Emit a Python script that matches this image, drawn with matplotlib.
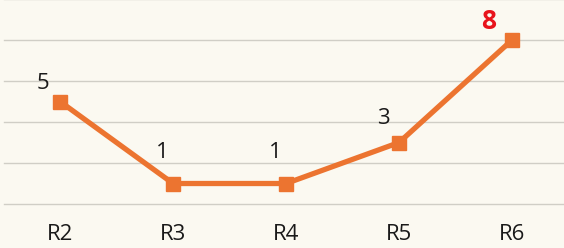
import matplotlib
matplotlib.use("Agg")
import matplotlib.pyplot as plt

categories = ["R2", "R3", "R4", "R5", "R6"]
values = [5, 1, 1, 3, 8]
highlight = [False, False, False, False, True]

# label placement (style only): offsets in points from each marker
label_dx = [-12, -8, -8, -11, -17]
label_dy = [13, 22, 22, 17, 13]

bg = "#fbf9f1"
line_color = "#ec7430"

fig = plt.figure(figsize=(5.64, 2.48), dpi=100, facecolor=bg)
ax = fig.add_axes([4 / 564, 0.1774, 560 / 564, 0.8266], facecolor=bg)

x = list(range(len(categories)))
ax.plot(x, values, color=line_color, lw=3.8, marker="s", ms=10,
        solid_joinstyle="miter", zorder=3)

for xi, v, h, dx, dy in zip(x, values, highlight, label_dx, label_dy):
    if h:
        ax.annotate(str(v), (xi, v), xytext=(dx, dy), textcoords="offset points",
                    ha="center", va="center", fontsize=19, fontweight="bold",
                    color="#e8141c", family="Open Sans")
    else:
        ax.annotate(str(v), (xi, v), xytext=(dx, dy), textcoords="offset points",
                    ha="center", va="center", fontsize=16, color="#1a1a1a",
                    family="Open Sans")

ax.set_xlim(-0.496, 4.46)
ax.set_ylim(0, 10)
ax.set_yticks([0, 2, 4, 6, 8, 10])
ax.yaxis.grid(True, color="#d0cec6", lw=1.0)
for gl in ax.get_ygridlines():
    gl.set_clip_on(False)
ax.set_axisbelow(True)
ax.tick_params(axis="y", left=False, labelleft=False)
ax.tick_params(axis="x", bottom=False, pad=11)
ax.set_xticks(x)
ax.set_xticklabels(categories, fontsize=16, family="Open Sans", color="#1a1a1a")
for s in ax.spines.values():
    s.set_visible(False)

fig.savefig("out.png", dpi=100, facecolor=bg)
